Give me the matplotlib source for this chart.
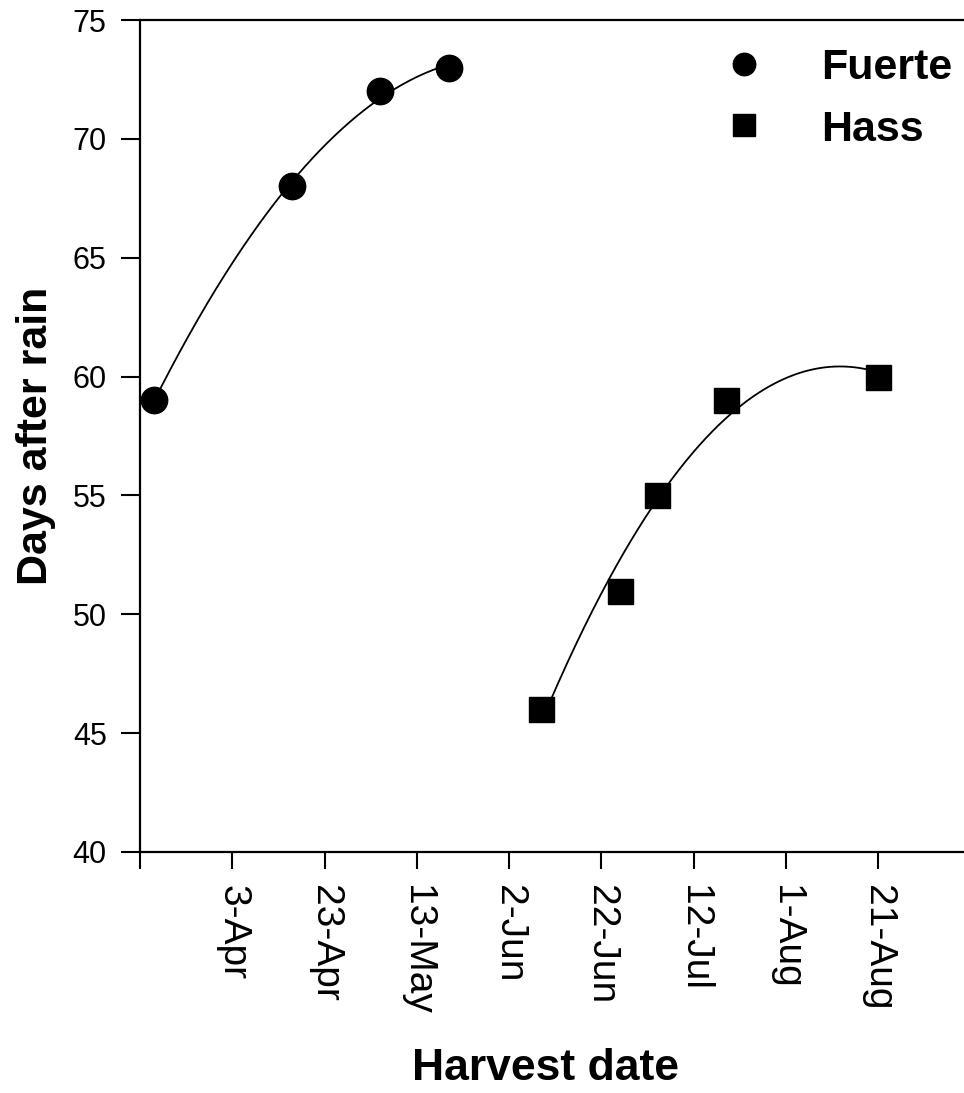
import numpy as np
import matplotlib
matplotlib.use('Agg')
import matplotlib.pyplot as plt
import matplotlib.dates as mdates
from datetime import datetime

plt.rcParams['font.family'] = ['Liberation Sans', 'DejaVu Sans']

# Data
fuerte_dates = ['2001-03-17', '2001-04-16', '2001-05-05', '2001-05-20']
fuerte_days = [59, 68, 72, 73]
hass_dates = ['2001-06-09', '2001-06-26', '2001-07-04', '2001-07-19', '2001-08-21']
hass_days = [46, 51, 55, 59, 60]

tick_dates = ['2001-03-14', '2001-04-03', '2001-04-23', '2001-05-13', '2001-06-02',
              '2001-06-22', '2001-07-12', '2001-08-01', '2001-08-21', '2001-09-10']
tick_labels = ['', '3-Apr', '23-Apr', '13-May', '2-Jun', '22-Jun', '12-Jul', '1-Aug', '21-Aug', '']


def to_num(ds):
    return mdates.date2num([datetime.strptime(d, '%Y-%m-%d') for d in ds])


xf = to_num(fuerte_dates)
xh = to_num(hass_dates)
xt = to_num(tick_dates)

fig = plt.figure(figsize=(9.64, 10.93), dpi=100)
ax = fig.add_axes([140/964, 241/1093, 830.5/964, 832/1093])

# quadratic trend lines
for x, y in [(xf, fuerte_days), (xh, hass_days)]:
    c = np.polyfit(x - x[0], y, 2)
    xs = np.linspace(x[0], x[-1], 200)
    ax.plot(xs, np.polyval(c, xs - x[0]), color='black', lw=1.3, zorder=2)

ax.plot(xf, fuerte_days, 'o', color='black', ms=19, ls='none', label='Fuerte', zorder=3)
ax.plot(xh, hass_days, 's', color='black', ms=18, ls='none', label='Hass', zorder=3)

ax.set_xlim(xt[0], xt[-1])
ax.set_ylim(40, 75)
ax.set_yticks([40, 45, 50, 55, 60, 65, 70, 75])
ax.set_xticks(xt)
ax.set_xticklabels(tick_labels, rotation=270, va='top', ha='center')

ax.tick_params(axis='y', direction='out', length=14, width=1.5, pad=10, labelsize=22)
ax.tick_params(axis='x', direction='out', length=12, width=1.5, pad=12, labelsize=28)
for s in ax.spines.values():
    s.set_linewidth(1.6)

ax.set_ylabel('Days after rain', fontsize=31, fontweight='bold', labelpad=12)
ax.set_xlabel('Harvest date', fontsize=32, fontweight='bold')
ax.xaxis.set_label_coords((546 - 140) / 830.5, -0.236)

leg = ax.legend(loc='upper left', bbox_to_anchor=(722/964, 1 - 48/1093),
                bbox_transform=fig.transFigure, frameon=False,
                prop={'weight': 'bold', 'size': 31}, handlelength=1.0,
                handletextpad=1.3, labelspacing=0.5, borderpad=0, borderaxespad=0,
                markerscale=0.85)

fig.savefig('out.png', dpi=100)
